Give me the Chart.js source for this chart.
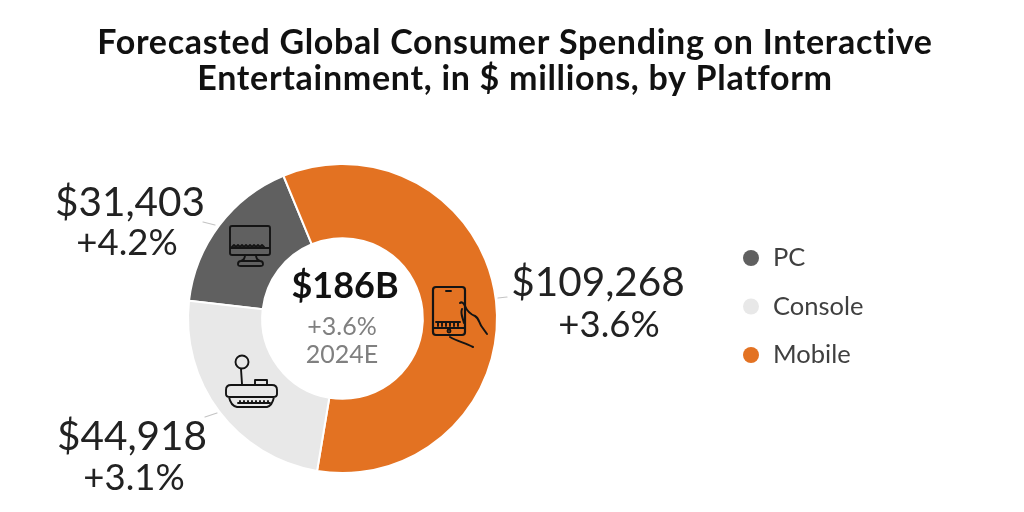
<!DOCTYPE html>
<html>
<head>
<meta charset="utf-8">
<script src="https://cdn.jsdelivr.net/npm/chart.js@4"></script>
<style>
  html, body { margin: 0; background: #fff; }
  #wrap { position: relative; width: 1024px; height: 512px; }
  #icons { position: absolute; left: 0; top: 0; pointer-events: none; }
</style>
</head>
<body>
<div id="wrap">
  <canvas id="spending-chart" width="1024" height="512"></canvas>
  <svg id="icons" width="1024" height="512" fill="none" stroke="#141414" stroke-width="1.9" stroke-linecap="round" stroke-linejoin="round">
    <!-- leader lines -->
    <g stroke="#c4c4c4" stroke-width="1.2">
      <path d="M203 222L215 225"/>
      <path d="M205 417L217 413"/>
      <path d="M498 298L507 297"/>
    </g>
    <!-- monitor -->
    <rect x="230" y="226" width="40" height="29" rx="2"/>
    <path d="M231 248H269M232 247l2-2 2 2 2-2 2 2 2-2 2 2 2-2 2 2 2-2 2 2 2-2 2 2 2-2 2 2 2-2 2 2"/>
    <path d="M245 255c0 3-1 5-4 6M256 255c0 3 1 5 4 6M238 264c0-2 1-3 3-3h19c2 0 3 1 3 3s-1 2-3 2h-19c-2 0-3 0-3-2z"/>
    <!-- phone and hand -->
    <rect x="433" y="287" width="32" height="48" rx="3" stroke-width="2.2"/>
    <path d="M446 291h5M434 328h30M438 326v-4M442 326v-4M446 326v-4M450 326v-4M454 326v-4M458 326v-4M436 322h24"/>
    <path d="M460 303c2-2 4 1 5 3 2 5 5 8 10 10 4 2 4 7 7 11l5 7M462 309c-2 5 1 9 2 14M450 337c7 4 15 6 23 10" stroke-width="2"/>
    <circle cx="449" cy="331" r="1.5"/>
    <!-- console -->
    <circle cx="242" cy="362" r="6.5"/>
    <path d="M241 369l1 15"/>
    <path d="M226 390c0-3 2-5 5-5h41c3 0 5 2 5 5v4c0 2-2 3-4 3h-43c-2 0-4-1-4-3zM229 397c1 5 3 9 8 10h30c4-1 6-5 7-10"/>
    <path d="M255 384v-4h12v4M259 380h4M240 403v-2M244 403v-2M248 403v-2M252 403v-2M256 403v-2M260 403v-2M264 403v-2M268 403v-2M238 403h32"/>
  </svg>
</div>
<script>
const titleLines = ['Forecasted Global Consumer Spending on Interactive', 'Entertainment, in $ millions, by Platform'];

// clockwise order as drawn in the picture
const platforms = ['PC', 'Mobile', 'Console'];
const legendOrder = ['PC', 'Console', 'Mobile'];
const spending = [31403, 109268, 44918];
const growth = ['+4.2%', '+3.6%', '+3.1%'];
const colors = ['#606060', '#E37222', '#E8E8E8'];

const centerTotal = '$186B';
const centerGrowth = '+3.6%';
const centerYear = '2024E';

const FONT = 'Lato, "Open Sans", sans-serif';

function text(ctx, str, x, y, font, color, align, spacing) {
  ctx.font = font;
  ctx.fillStyle = color;
  ctx.textAlign = align || 'center';
  ctx.textBaseline = 'middle';
  ctx.letterSpacing = spacing || '0px';
  ctx.fillText(str, x, y);
}

const textPlugin = {
  id: 'textPlugin',
  afterDraw(chart) {
    const ctx = chart.ctx;
    ctx.save();

    text(ctx, titleLines[0], 515, 43, `700 34px ${FONT}`, '#111', 'center', '0.7px');
    text(ctx, titleLines[1], 515, 79, `700 34px ${FONT}`, '#111', 'center', '0.7px');

    // value labels next to the ring
    const spots = { PC: [130, 203, 127, 243], Mobile: [598, 283, 609, 325], Console: [132, 437, 134, 478] };
    platforms.forEach((p, i) => {
      const s = spots[p];
      const dollars = '$' + spending[i].toLocaleString('en-US');
      text(ctx, dollars, s[0], s[1], `400 40.5px ${FONT}`, '#222');
      text(ctx, growth[i], s[2], s[3], `400 36.5px ${FONT}`, '#222');
    });

    // center of the doughnut
    text(ctx, centerTotal, 345, 286, `700 36px ${FONT}`, '#111');
    text(ctx, centerGrowth, 342, 327, `400 25px ${FONT}`, '#808080');
    text(ctx, centerYear, 342, 355, `400 25px ${FONT}`, '#808080');

    // legend
    legendOrder.forEach((name, i) => {
      const y = 258 + i * 48.5;
      ctx.beginPath();
      ctx.arc(751, y, 8, 0, Math.PI * 2);
      ctx.fillStyle = colors[platforms.indexOf(name)];
      ctx.fill();
      text(ctx, name, 773, y, `400 25.5px ${FONT}`, '#404040', 'left');
    });

    ctx.restore();
  }
};

new Chart(document.getElementById('spending-chart').getContext('2d'), {
  type: 'doughnut',
  data: {
    labels: platforms,
    datasets: [{
      data: spending,
      backgroundColor: colors,
      borderColor: '#fff',
      borderWidth: 2,
      hoverOffset: 0
    }]
  },
  options: {
    responsive: false,
    animation: false,
    rotation: 276.6,
    cutout: '52%',
    layout: { padding: { top: 163, bottom: 38, left: 0, right: 339 } },
    plugins: {
      legend: { display: false },
      tooltip: { enabled: false }
    }
  },
  plugins: [textPlugin]
});
</script>
</body>
</html>
